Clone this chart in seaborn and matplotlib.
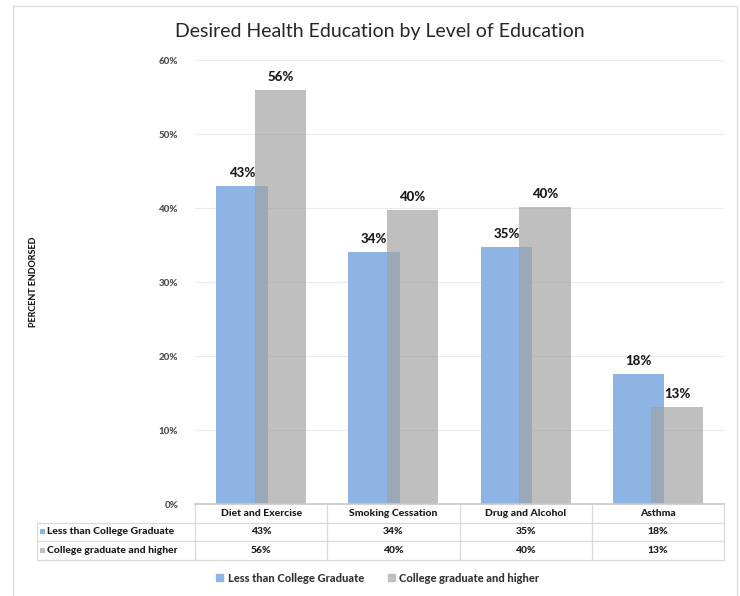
import matplotlib
matplotlib.use("Agg")
import matplotlib.pyplot as plt
import seaborn as sns
import pandas as pd
from matplotlib.transforms import blended_transform_factory
from matplotlib.lines import Line2D
from matplotlib.patches import Rectangle, Patch

# ---------------- data ----------------
categories = ["Diet and Exercise", "Smoking Cessation", "Drug and Alcohol", "Asthma"]
series_names = ["Less than College Graduate", "College graduate and higher"]
less_than_college = [43.0, 34.0, 34.7, 17.6]
college_and_higher = [55.9, 39.7, 40.1, 13.1]
y_ticks = [0, 10, 20, 30, 40, 50, 60]
title_text = "Desired Health Education by Level of Education"
y_label = "PERCENT ENDORSED"

df = pd.DataFrame({
    "category": categories * 2,
    "series": [series_names[0]] * len(categories) + [series_names[1]] * len(categories),
    "value": less_than_college + college_and_higher,
})

sns.set_theme(style="white")
plt.rcParams["font.family"] = ["Lato", "DejaVu Sans"]
BW = 900  # heavy weight for the small bold labels

W, H = 740, 596
fig = plt.figure(figsize=(W / 100, H / 100), dpi=100)
L, R, T, B = 195, 724, 60, 504
ax = fig.add_axes([L / W, 1 - B / H, (R - L) / W, (B - T) / H])

blue = "#8DB4E2"
gray = "#A1A1A1"
sns.barplot(data=df, x="category", y="value", hue="series", order=categories,
            hue_order=series_names, palette=[blue, gray], width=0.58, gap=-0.345,
            dodge=True, saturation=1, linewidth=0, errorbar=None, ax=ax)
if ax.legend_ is not None:
    ax.legend_.remove()

for bar in ax.containers[1]:
    bar.set_alpha(0.68)

txt_c = "#1a1a1a"
for cont, vals in zip(ax.containers, [less_than_college, college_and_higher]):
    ax.bar_label(cont, labels=[f"{v:.0f}%" for v in vals], padding=5,
                 fontsize=9.5, fontweight=BW, color=txt_c)

ax.set_xlim(-0.5, len(categories) - 0.5)
ax.set_ylim(0, 60)
ax.set_yticks(y_ticks)
ax.set_yticklabels([f"{t}%" for t in y_ticks], fontsize=7, fontweight=BW, color="#4d4d4d")
ax.tick_params(axis="y", length=0, pad=12)
ax.tick_params(axis="x", length=0)
ax.set_xticklabels([])
ax.set_xlabel("")
ax.set_ylabel(y_label, fontsize=6.5, fontweight=BW, color=txt_c)
ax.yaxis.set_label_coords(-0.297, 0.5)
ax.yaxis.grid(True, color="#ebebeb", lw=0.8)
ax.set_axisbelow(True)
for s in ["top", "right", "left"]:
    ax.spines[s].set_visible(False)
ax.spines["bottom"].set_color("#c8c8c8")
ax.spines["bottom"].set_linewidth(1.2)

# ---------------- data table ----------------
trans = blended_transform_factory(ax.transData, ax.transAxes)
ax_h = B - T
px_x = 1 / (R - L) * len(categories)  # data units per pixel in x
row_h = 18.5 / ax_h
line_c = "#d9d9d9"
left_x = -0.5 - (L - 37) * px_x
right_x = len(categories) - 0.5

def hline(y, x0, x1):
    ax.add_line(Line2D([x0, x1], [y, y], transform=trans, color=line_c, lw=0.9, clip_on=False))

def vline(x, y0, y1):
    ax.add_line(Line2D([x, x], [y0, y1], transform=trans, color=line_c, lw=0.9, clip_on=False))

for i in range(1, 4):
    hline(-i * row_h, left_x, right_x)
vline(left_x, -row_h, -3 * row_h)
for i in range(len(categories) + 1):
    vline(i - 0.5, 0, -3 * row_h)

tf = dict(transform=trans, ha="center", va="center", fontsize=7.5, fontweight=BW,
          color=txt_c, clip_on=False)
for i, c in enumerate(categories):
    ax.text(i, -0.5 * row_h, c, **tf)
    ax.text(i, -1.5 * row_h, f"{less_than_college[i]:.0f}%", **tf)
    ax.text(i, -2.5 * row_h, f"{college_and_higher[i]:.0f}%", **tf)

for r, (name, col) in enumerate(zip(series_names, [blue, "#bfbfbf"])):
    yc = -(1.5 + r) * row_h
    sq = 5
    ax.add_patch(Rectangle((left_x + 3 * px_x, yc - sq / 2 / ax_h), sq * px_x, sq / ax_h,
                           transform=trans, color=col, clip_on=False, lw=0))
    ax.text(left_x + 10 * px_x, yc, name, transform=trans, ha="left", va="center",
            fontsize=7.5, fontweight=BW, color=txt_c, clip_on=False)

# ---------------- legend ----------------
handles = [Patch(color=blue), Patch(color="#bfbfbf")]
fig.legend(handles, series_names, loc="center", bbox_to_anchor=(378 / W, 1 - 578 / H),
           ncol=2, frameon=False, handlelength=0.6, handleheight=0.6,
           handletextpad=0.4, columnspacing=2.2,
           prop={"weight": BW, "size": 8}, labelcolor="#333333")

# ---------------- title & frame ----------------
fig.text(380 / W, 1 - 32 / H, title_text, ha="center", va="center", fontsize=14, color="#262626")
fig.add_artist(Rectangle((13 / W, -0.1), (737 - 13) / W, 1 - 6 / H + 0.1,
                         transform=fig.transFigure, fill=False, ec="#dcdcdc", lw=1))

fig.savefig("out.png", dpi=100, facecolor="white")
